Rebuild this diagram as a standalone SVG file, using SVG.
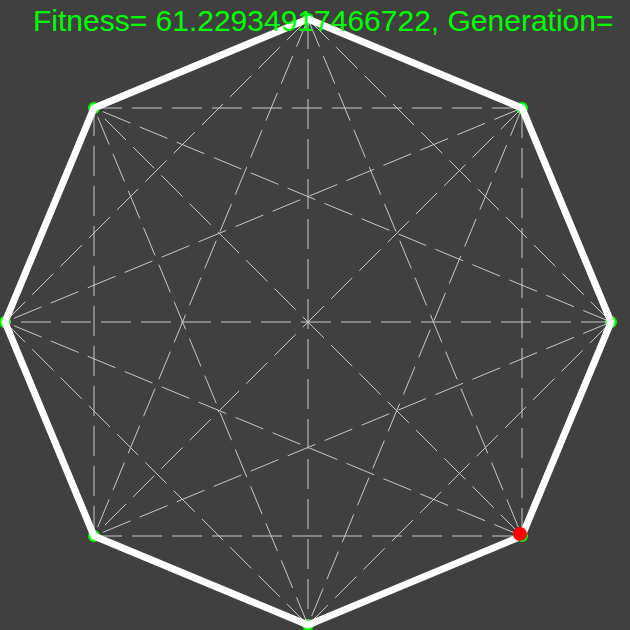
<svg xmlns="http://www.w3.org/2000/svg" width="630" height="630" viewBox="0 0 630 630">
<style>
.bg{fill:#404040}
.dash{stroke:#c8c8c8;stroke-width:1;stroke-dasharray:30 10;fill:none}
.edge{stroke:#ffffff;stroke-width:7;fill:none;stroke-linejoin:miter}
.node{fill:#00ff00}
.cur{fill:#ff0000}
.title{fill:#00ff00;font-family:"Liberation Sans",Arial,sans-serif;font-size:30px}
</style>
<rect class="bg" x="0" y="0" width="630" height="630"/>
<g id="nodes">
<g id="n0"><circle class="node" cx="308" cy="19" r="6"/></g>
<g id="n1"><circle class="node" cx="522" cy="108" r="6"/></g>
<g id="n2"><circle class="node" cx="611" cy="322" r="6"/></g>
<g id="n3"><circle class="node" cx="522" cy="536" r="6"/></g>
<g id="n4"><circle class="node" cx="308" cy="625" r="6"/></g>
<g id="n5"><circle class="node" cx="94" cy="536" r="6"/></g>
<g id="n6"><circle class="node" cx="5" cy="322" r="6"/></g>
<g id="n7"><circle class="node" cx="94" cy="108" r="6"/></g>
</g>
<g id="connectors">
<g class="dash">
<line x1="308" y1="19" x2="611" y2="322"/>
<line x1="308" y1="19" x2="522" y2="536"/>
<line x1="308" y1="19" x2="308" y2="625"/>
<line x1="308" y1="19" x2="94" y2="536"/>
<line x1="308" y1="19" x2="5" y2="322"/>
<line x1="522" y1="108" x2="522" y2="536"/>
<line x1="522" y1="108" x2="308" y2="625"/>
<line x1="522" y1="108" x2="94" y2="536"/>
<line x1="522" y1="108" x2="5" y2="322"/>
<line x1="522" y1="108" x2="94" y2="108"/>
<line x1="611" y1="322" x2="308" y2="625"/>
<line x1="611" y1="322" x2="94" y2="536"/>
<line x1="611" y1="322" x2="5" y2="322"/>
<line x1="611" y1="322" x2="94" y2="108"/>
<line x1="522" y1="536" x2="94" y2="536"/>
<line x1="522" y1="536" x2="5" y2="322"/>
<line x1="522" y1="536" x2="94" y2="108"/>
<line x1="308" y1="625" x2="5" y2="322"/>
<line x1="308" y1="625" x2="94" y2="108"/>
<line x1="94" y1="536" x2="94" y2="108"/>
</g>
<polygon class="edge" points="94,108 308,19 522,108 611,322 522,536 308,625 94,536 5,322"/>
</g>
<g id="current"><circle class="cur" cx="520" cy="534" r="7"/></g>
<text class="title" x="33" y="31">Fitness= 61.22934917466722, Generation=</text>
</svg>
